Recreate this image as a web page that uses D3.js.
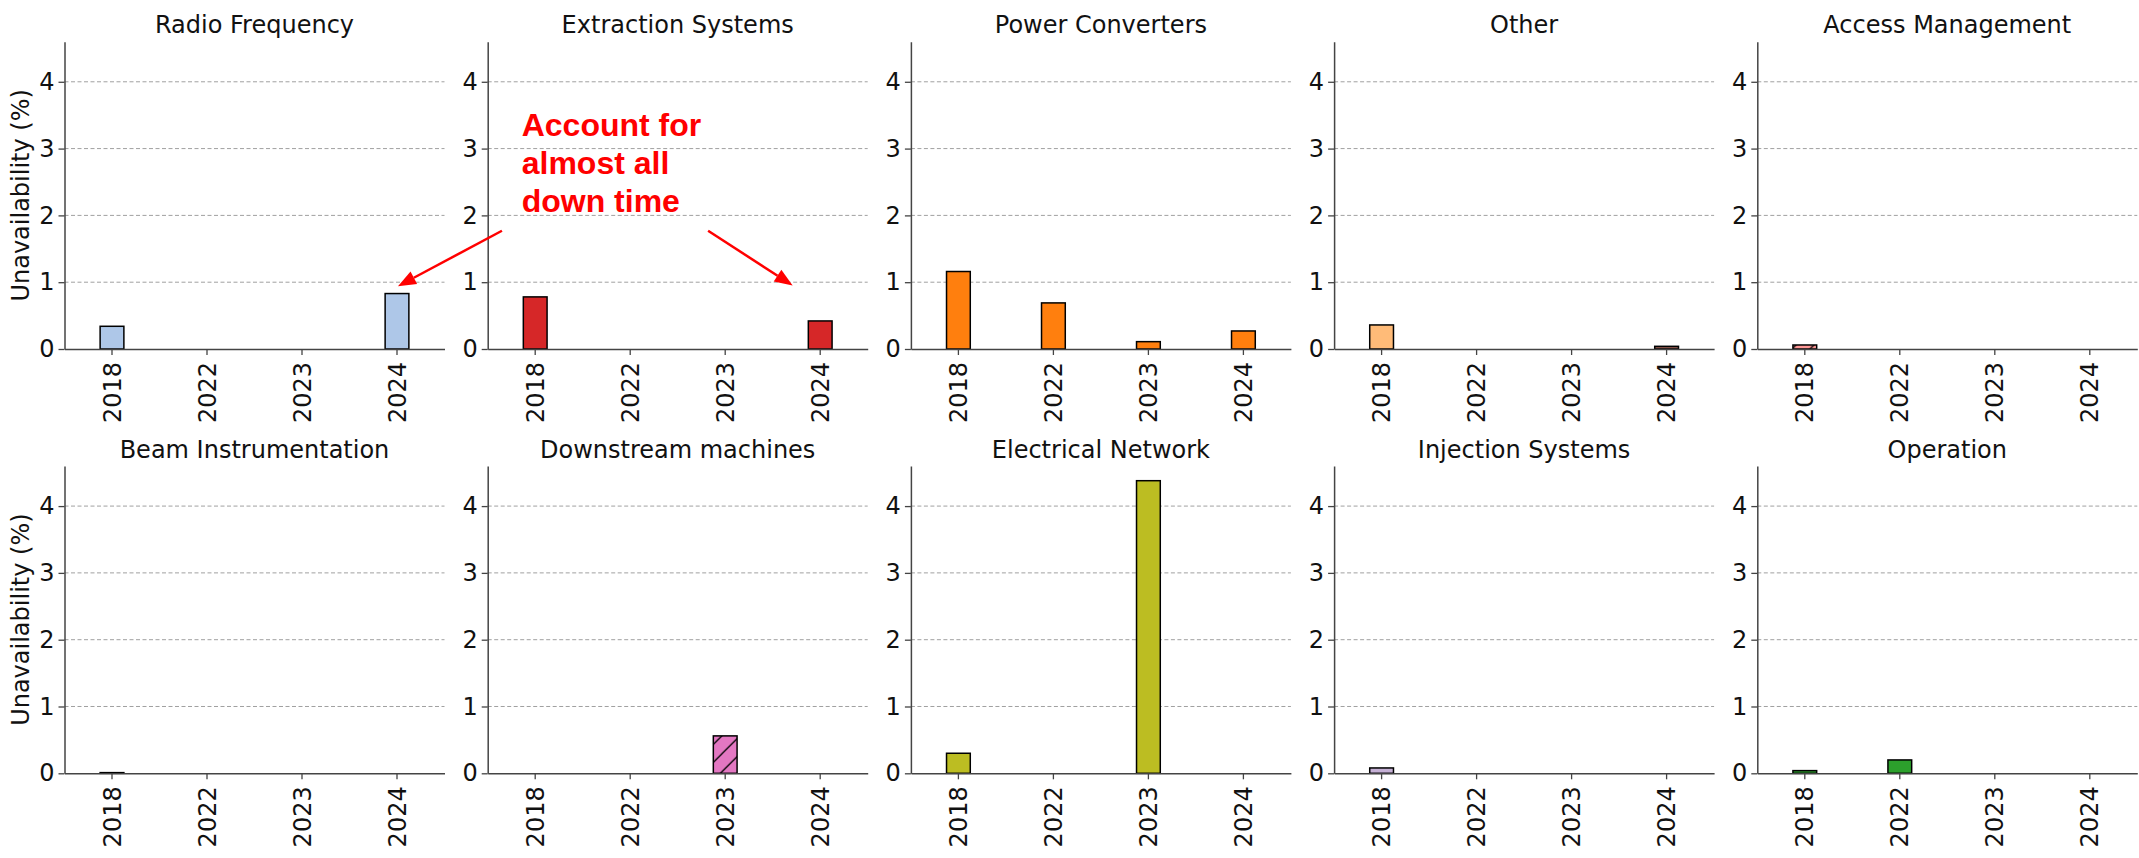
<!DOCTYPE html>
<html>
<head>
<meta charset="utf-8">
<script src="https://cdn.jsdelivr.net/npm/d3@7"></script>
<style>
  body { margin: 0; background: #fff; }
</style>
</head>
<body>
<div id="chart"></div>
<script>
// unavailability (%) per system and year
const years = ["2018", "2022", "2023", "2024"];
const yTicks = [0, 1, 2, 3, 4];
const yMax = 4.6;

const systems = [
    "Radio Frequency", "Extraction Systems", "Power Converters", "Other", "Access Management",
    "Beam Instrumentation", "Downstream machines", "Electrical Network", "Injection Systems", "Operation"
];

const radioFrequency     = [0.34, 0, 0, 0.83];
const extractionSystems  = [0.78, 0, 0, 0.42];
const powerConverters    = [1.16, 0.69, 0.11, 0.27];
const other              = [0.36, 0, 0, 0.04];
const accessManagement   = [0.06, 0, 0, 0];
const beamInstrumentation = [0.01, 0, 0, 0];
const downstreamMachines = [0, 0, 0.56, 0];
const electricalNetwork  = [0.30, 0, 4.38, 0];
const injectionSystems   = [0.08, 0, 0, 0];
const operation          = [0.04, 0.20, 0, 0];

const values = [radioFrequency, extractionSystems, powerConverters, other, accessManagement,
    beamInstrumentation, downstreamMachines, electricalNetwork, injectionSystems, operation];

// bar colours, one per year
const fills = [
    ["#aec7e8", "#aec7e8", "#aec7e8", "#aec7e8"],
    ["#d62728", "#d62728", "#d62728", "#d62728"],
    ["#ff7f0e", "#ff7f0e", "#ff7f0e", "#ff7f0e"],
    ["#ffbb78", "#ffbb78", "#ffbb78", "#8c564b"],
    ["#ff9896", "#ff9896", "#ff9896", "#ff9896"],
    ["#7f7f7f", "#7f7f7f", "#7f7f7f", "#7f7f7f"],
    ["#e377c2", "#e377c2", "#e377c2", "#e377c2"],
    ["#bcbd22", "#bcbd22", "#bcbd22", "#bcbd22"],
    ["#c5b0d5", "#c5b0d5", "#c5b0d5", "#c5b0d5"],
    ["#2ca02c", "#2ca02c", "#2ca02c", "#2ca02c"]
];
const hatched = ["Access Management", "Downstream machines"];

const annotationLines = ["Account for", "almost all", "down time"];

// layout
const W = 2139, H = 858;
const cols = 5;
const panelW = 380, panelH = 307.3;
const colStep = 423.2;
const left0 = 64.5;
const rowTops = [41.7, 466];
const font = "DejaVu Sans, sans-serif";

const svg = d3.select("#chart").append("svg")
    .attr("width", W)
    .attr("height", H);

const defs = svg.append("defs");

const x = d3.scaleBand().domain(years).range([0, panelW]).padding(0);
const y = d3.scaleLinear().domain([0, yMax]).range([panelH, 0]);
const barW = x.bandwidth() * 0.25;

const panels = [];

systems.forEach((name, i) => {
    const col = i % cols, row = Math.floor(i / cols);
    const g = svg.append("g")
        .attr("transform", `translate(${left0 + col * colStep},${rowTops[row]})`);
    panels.push(g);

    // grid
    g.append("g").selectAll("line")
        .data(yTicks.filter(t => t > 0))
        .join("line")
        .attr("x1", 0).attr("x2", panelW)
        .attr("y1", d => y(d)).attr("y2", d => y(d))
        .attr("stroke", "#a0a0a0")
        .attr("stroke-width", 1)
        .attr("stroke-dasharray", "4,2.5");

    // bars
    const isHatched = hatched.includes(name);
    g.append("g").selectAll("rect")
        .data(years.map((yr, j) => ({year: yr, value: values[i][j], fill: fills[i][j]})))
        .join("rect")
        .attr("x", d => x(d.year) + x.bandwidth() / 2 - barW / 2)
        .attr("y", d => y(d.value))
        .attr("width", barW)
        .attr("height", d => panelH - y(d.value))
        .attr("fill", d => {
            if (!isHatched) return d.fill;
            const id = "hatch" + i + d.year;
            const p = defs.append("pattern")
                .attr("id", id)
                .attr("patternUnits", "userSpaceOnUse")
                .attr("width", 18).attr("height", 18);
            p.append("rect").attr("width", 18).attr("height", 18).attr("fill", d.fill);
            p.append("path")
                .attr("d", "M0,18 L18,0 M-4,4 L4,-4 M14,22 L22,14")
                .attr("stroke", "#000").attr("stroke-width", 1.3);
            return `url(#${id})`;
        })
        .attr("stroke", "#000")
        .attr("stroke-width", 1.5);

    // y axis
    const ya = g.append("g")
        .call(d3.axisLeft(y).tickValues(yTicks).tickFormat(d3.format("d"))
            .tickSize(6).tickPadding(4).tickSizeOuter(0));
    ya.select(".domain").attr("stroke", "#444").attr("stroke-width", 1.5);
    ya.selectAll(".tick line").attr("stroke", "#444").attr("stroke-width", 1.3);
    ya.selectAll(".tick text").attr("font-size", 24).attr("fill", "#111")
        .attr("font-family", font);

    // x axis
    const xa = g.append("g")
        .attr("transform", `translate(0,${panelH})`)
        .call(d3.axisBottom(x).tickSize(6).tickSizeOuter(0));
    xa.select(".domain").attr("stroke", "#444").attr("stroke-width", 1.5);
    xa.selectAll(".tick line").attr("stroke", "#444").attr("stroke-width", 1.3);
    xa.selectAll(".tick text")
        .attr("font-size", 24).attr("fill", "#111")
        .attr("font-family", font)
        .attr("transform", "rotate(-90)")
        .attr("text-anchor", "end")
        .attr("x", -13).attr("y", 0)
        .attr("dy", "0.36em");

    // title
    g.append("text")
        .attr("x", panelW / 2).attr("y", -8.5)
        .attr("text-anchor", "middle")
        .attr("font-family", font)
        .attr("font-size", 24).attr("fill", "#111")
        .text(name);

    if (col === 0) {
        g.append("text")
            .attr("transform", `translate(${-36},${panelH / 2}) rotate(-90)`)
            .attr("text-anchor", "middle")
            .attr("font-family", font)
            .attr("font-size", 24).attr("fill", "#111")
            .text("Unavailability (%)");
    }
});

// annotation in the Extraction Systems panel frame
const ann = panels[1];
ann.append("g").selectAll("text")
    .data(annotationLines)
    .join("text")
    .attr("x", x("2018") + 34)
    .attr("y", (d, k) => y(3.19) + k * 38.3)
    .attr("font-family", "Liberation Sans, Arial, sans-serif")
    .attr("font-weight", "bold")
    .attr("font-size", 32)
    .attr("fill", "#ff0000")
    .text(d => d);

// arrows: start near text (Extraction frame), tip in data coords of target panel
const xc = (yr, off) => x(yr) + x.bandwidth() / 2 + off * x.bandwidth();
const arrows = [
    {from: [xc("2018", -0.35), y(1.77)], panel: 0, to: [xc("2024", 0.01), y(0.94)]},
    {from: [xc("2018", 1.82), y(1.77)], panel: 1, to: [xc("2024", -0.29), y(0.95)]}
];
arrows.forEach(a => {
    const dx = (a.panel - 1) * colStep;
    const tx = a.to[0] + dx, ty = a.to[1];
    const fx = a.from[0], fy = a.from[1];
    const ang = Math.atan2(ty - fy, tx - fx);
    const hl = 18, hw = 7;
    const bx = tx - hl * Math.cos(ang), by = ty - hl * Math.sin(ang);
    ann.append("line")
        .attr("x1", fx).attr("y1", fy)
        .attr("x2", bx).attr("y2", by)
        .attr("stroke", "#ff0000").attr("stroke-width", 2.5);
    const px = -Math.sin(ang) * hw, py = Math.cos(ang) * hw;
    ann.append("path")
        .attr("d", `M${tx},${ty}L${bx + px},${by + py}L${bx - px},${by - py}Z`)
        .attr("fill", "#ff0000");
});
</script>
</body>
</html>
